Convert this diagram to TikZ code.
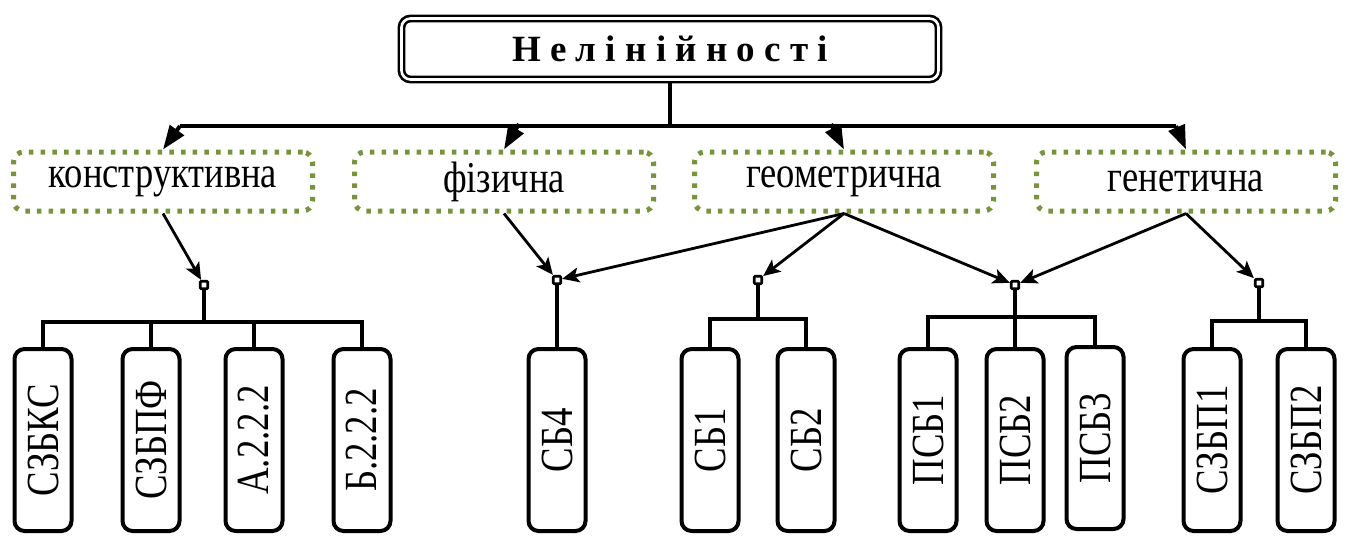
\documentclass[tikz,border=0pt]{standalone}
\usepackage{fontspec}
\setmainfont{Liberation Serif}
\usepackage{graphicx}
\usetikzlibrary{arrows.meta}
\definecolor{olivegr}{HTML}{77933C}
\newcommand{\vlab}[1]{\rotatebox{90}{\scalebox{0.8}[1]{\fontsize{46}{48}\selectfont #1}}}
\newcommand{\glab}[1]{\scalebox{0.83}[1]{\fontsize{44}{48}\selectfont #1}}
\begin{document}
\begin{tikzpicture}[x=1pt,y=-1pt,
  titlebox/.style={draw, double, line width=2.6pt, double distance=2.6pt, rounded corners=9pt, minimum width=537pt, minimum height=61pt, inner sep=0pt, font=\fontsize{37}{40}\selectfont\bfseries},
  cat/.style={draw=olivegr, line width=5pt, dash pattern=on 4.5pt off 7.2pt, rounded corners=10pt, minimum width=299pt, minimum height=59pt, inner sep=0pt},
  leaf/.style={draw, line width=4pt, rounded corners=10pt, minimum width=57pt, minimum height=182pt, inner sep=0pt, fill=white},
  junc/.style={draw, line width=2.8pt, fill=white, minimum size=7.5pt, inner sep=0pt, rounded corners=1pt},
  bus/.style={line width=3.8pt},
  arr/.style={line width=2.8pt, -{Stealth[length=17pt,width=15pt,inset=4pt]}},
  toparr/.style={line width=4pt, -{Triangle[length=24pt,width=17pt]}},
]
\useasboundingbox (0,0) rectangle (1348,536);

\node[titlebox] (t) at (670,49) {Н е л і н і й н о с т і\hspace{18pt}};

\node[cat] (k) at (163,181.5) {\glab{конструктивна}};
\node[cat] (f) at (504,181.5) {\glab{фізична}};
\node[cat] (g) at (844,181.5) {\glab{геометрична}};
\node[cat] (n) at (1186,181.5) {\glab{генетична}};

\node[junc] (j1) at (204,285) {};
\node[junc] (j2) at (557,280) {};
\node[junc] (j3) at (758,280) {};
\node[junc] (j4) at (1015,285) {};
\node[junc] (j5) at (1259,283) {};

\node[leaf] (l1) at (43,440) {\vlab{СЗБКС}};
\node[leaf] (l2) at (151,440) {\vlab{СЗБПФ}};
\node[leaf] (l3) at (254,440) {\vlab{А.2.2.2}};
\node[leaf] (l4) at (362,440) {\vlab{Б.2.2.2}};
\node[leaf] (l5) at (557,440) {\vlab{СБ4}};
\node[leaf] (l6) at (710,440) {\vlab{СБ1}};
\node[leaf] (l7) at (806,440) {\vlab{СБ2}};
\node[leaf] (l8) at (928,440) {\vlab{ПСБ1}};
\node[leaf] (l9) at (1015,440) {\vlab{ПСБ2}};
\node[leaf] (l10) at (1095,438) {\vlab{ПСБ3}};
\node[leaf] (l11) at (1212,440) {\vlab{СЗБП1}};
\node[leaf] (l12) at (1306,440) {\vlab{СЗБП2}};

% top bar
\coordinate (bar) at (670,124);
\coordinate (c1) at (180,126);
\coordinate (c2) at (519,124);
\coordinate (c3) at (831,124);
\coordinate (c4) at (1176,126);
\draw[line width=4pt] (t.south) -- (bar);
\draw[line width=4pt] (c1) -- (c4);
\draw[toparr] (c1) -- (k.north);
\draw[toparr] (c2) -- (f.north);
\draw[toparr] (c3) -- (g.north);
\draw[toparr] (c4) -- (n.north);

% arrows to junctions
\draw[arr] (k.south) -- (j1);
\draw[arr] (f.south) -- (j2);
\draw[arr] (g.south) -- (j2);
\draw[arr] (g.south) -- (j3);
\draw[arr] (g.south) -- (j4);
\draw[arr] (n.south) -- (j4);
\draw[arr] (n.south) -- (j5);

% buses
\coordinate (b1) at (204,322);
\coordinate (b3) at (758,319);
\coordinate (b4) at (1015,317);
\coordinate (b5) at (1259,321);
\draw[bus] (j1) -- (b1);
\draw[bus] (b1) -| (l1.north);
\draw[bus] (b1) -| (l2.north);
\draw[bus] (b1) -| (l3.north);
\draw[bus] (b1) -| (l4.north);
\draw[bus] (j2) -- (l5.north);
\draw[bus] (j3) -- (b3);
\draw[bus] (b3) -| (l6.north);
\draw[bus] (b3) -| (l7.north);
\draw[bus] (j4) -- (b4);
\draw[bus] (b4) -| (l8.north);
\draw[bus] (b4) -- (l9.north);
\draw[bus] (b4) -| (l10.north);
\draw[bus] (j5) -- (b5);
\draw[bus] (b5) -| (l11.north);
\draw[bus] (b5) -| (l12.north);
\end{tikzpicture}
\end{document}
